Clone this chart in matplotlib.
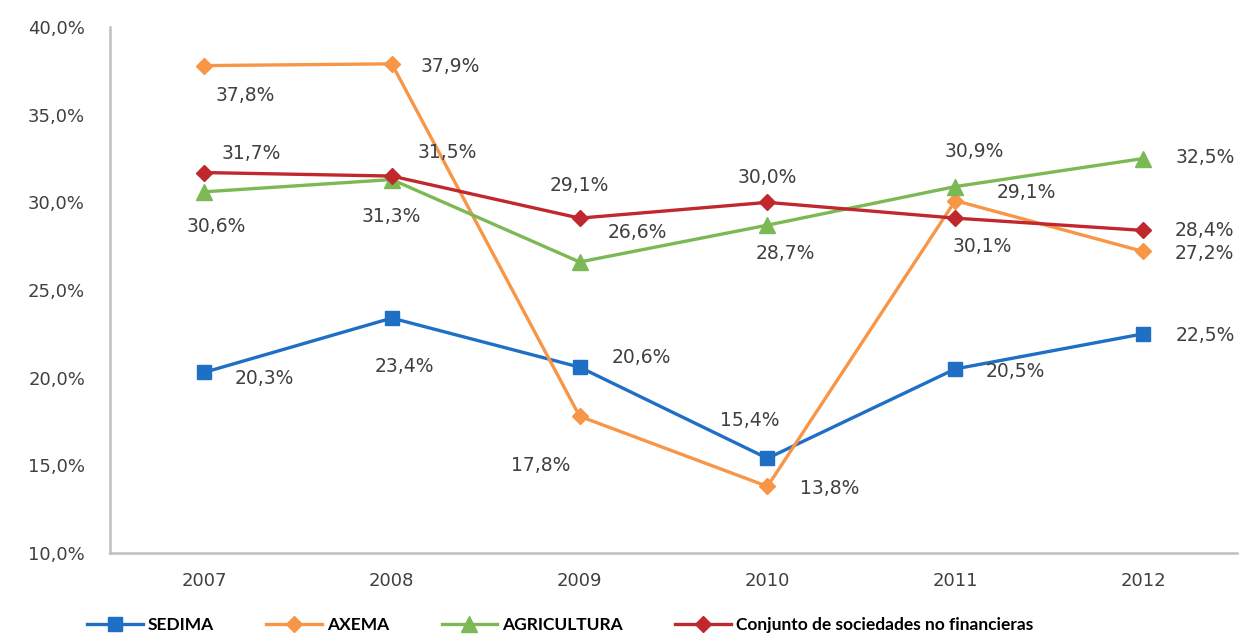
import numpy as np
import matplotlib.pyplot as plt

years = ['2007', '2008', '2009', '2010', '2011', '2012']

sedima = [20.3, 23.4, 20.6, 15.4, 20.5, 22.5]
axema = [37.8, 37.9, 17.8, 13.8, 30.1, 27.2]
agricultura = [30.6, 31.3, 26.6, 28.7, 30.9, 32.5]
conjunto = [31.7, 31.5, 29.1, 30.0, 29.1, 28.4]

names = ['SEDIMA', 'AXEMA', 'AGRICULTURA', 'Conjunto de sociedades no financieras']

# label offsets in pixels (dx, dy) from each point
off_sedima = [(60, -6), (13, -48), (62, 10), (-18, 38), (60, -3), (62, -2)]
off_axema = [(41, -30), (58, -3), (-39, -49), (62, -2), (27, -46), (61, -2)]
off_agri = [(12, -35), (-1, -37), (58, 29), (18, -28), (19, 35), (62, 1)]
off_conj = [(47, 19), (55, 24), (0, 33), (0, 25), (71, 26), (61, 0)]

txt = '#404040'

fig = plt.figure(figsize=(12.45, 6.42), dpi=100)
ax = fig.add_axes([0.0884, 0.1386, 0.9052, 0.8193])

x = np.arange(len(years))
series = [
    (sedima, '#1F6FC4', 's', 10, off_sedima),
    (axema, '#F79646', 'D', 8, off_axema),
    (agricultura, '#7CB955', '^', 11, off_agri),
    (conjunto, '#C0282D', 'D', 8, off_conj),
]

for (vals, col, mk, ms, offs), name in zip(series, names):
    ax.plot(x, vals, color=col, lw=2.4, marker=mk, markersize=ms, label=name)
    for xi, v, (dx, dy) in zip(x, vals, offs):
        ax.annotate(f'{v:.1f}%'.replace('.', ','), (xi, v), xytext=(dx, dy),
                    textcoords='offset pixels', ha='center', va='center',
                    fontsize=13.5, color=txt)

ax.set_xlim(-0.5, 5.5)
ax.set_ylim(10, 40)
ax.set_xticks(x)
ax.set_xticklabels(years)
yt = np.arange(10, 41, 5)
ax.set_yticks(yt)
ax.set_yticklabels([f'{v:.1f}%'.replace('.', ',') for v in yt])
ax.tick_params(length=0, labelsize=13, labelcolor=txt)
ax.tick_params(axis='y', pad=18)
ax.tick_params(axis='x', pad=14)

for s in ['top', 'right']:
    ax.spines[s].set_visible(False)
for s in ['left', 'bottom']:
    ax.spines[s].set_color('#BFBFBF')
    ax.spines[s].set_linewidth(1.8)

fig.legend(loc='lower center', bbox_to_anchor=(0.45, -0.01), ncol=4, frameon=False,
           handlelength=3.2, columnspacing=3.0, handletextpad=0.3,
           prop={'family': 'Lato', 'weight': 'bold', 'size': 12.5})

fig.savefig('out.png', dpi=100)
